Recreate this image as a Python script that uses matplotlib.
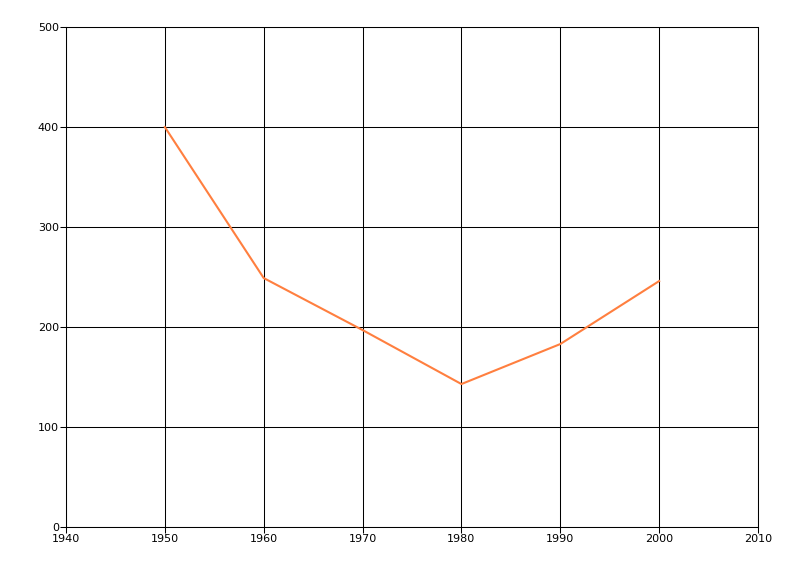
import matplotlib
matplotlib.use("Agg")
import matplotlib.pyplot as plt
import numpy as np

years = [1950, 1960, 1970, 1980, 1990, 2000]
values = [400, 249, 197, 143, 183, 246]
x_ticks = np.arange(1940, 2011, 10)
y_ticks = np.arange(0, 501, 100)

fig = plt.figure(figsize=(8, 5.76), dpi=100)
ax = fig.add_axes([0.0825, 0.085, 0.865, 0.868])

ax.plot(years, values, color="#ff7f3f", linewidth=1.5, zorder=3)

ax.set_xlim(1940, 2010)
ax.set_ylim(0, 500)
ax.set_xticks(x_ticks)
ax.set_yticks(y_ticks)
# thin 1px black grid like the original chart
ax.grid(True, color="black", linewidth=0.75)
ax.set_axisbelow(True)

for spine in ax.spines.values():
    spine.set_linewidth(0.75)

ax.tick_params(axis="both", direction="out", length=4, width=0.75, labelsize=8, pad=1)

fig.savefig("out.png", dpi=100)
